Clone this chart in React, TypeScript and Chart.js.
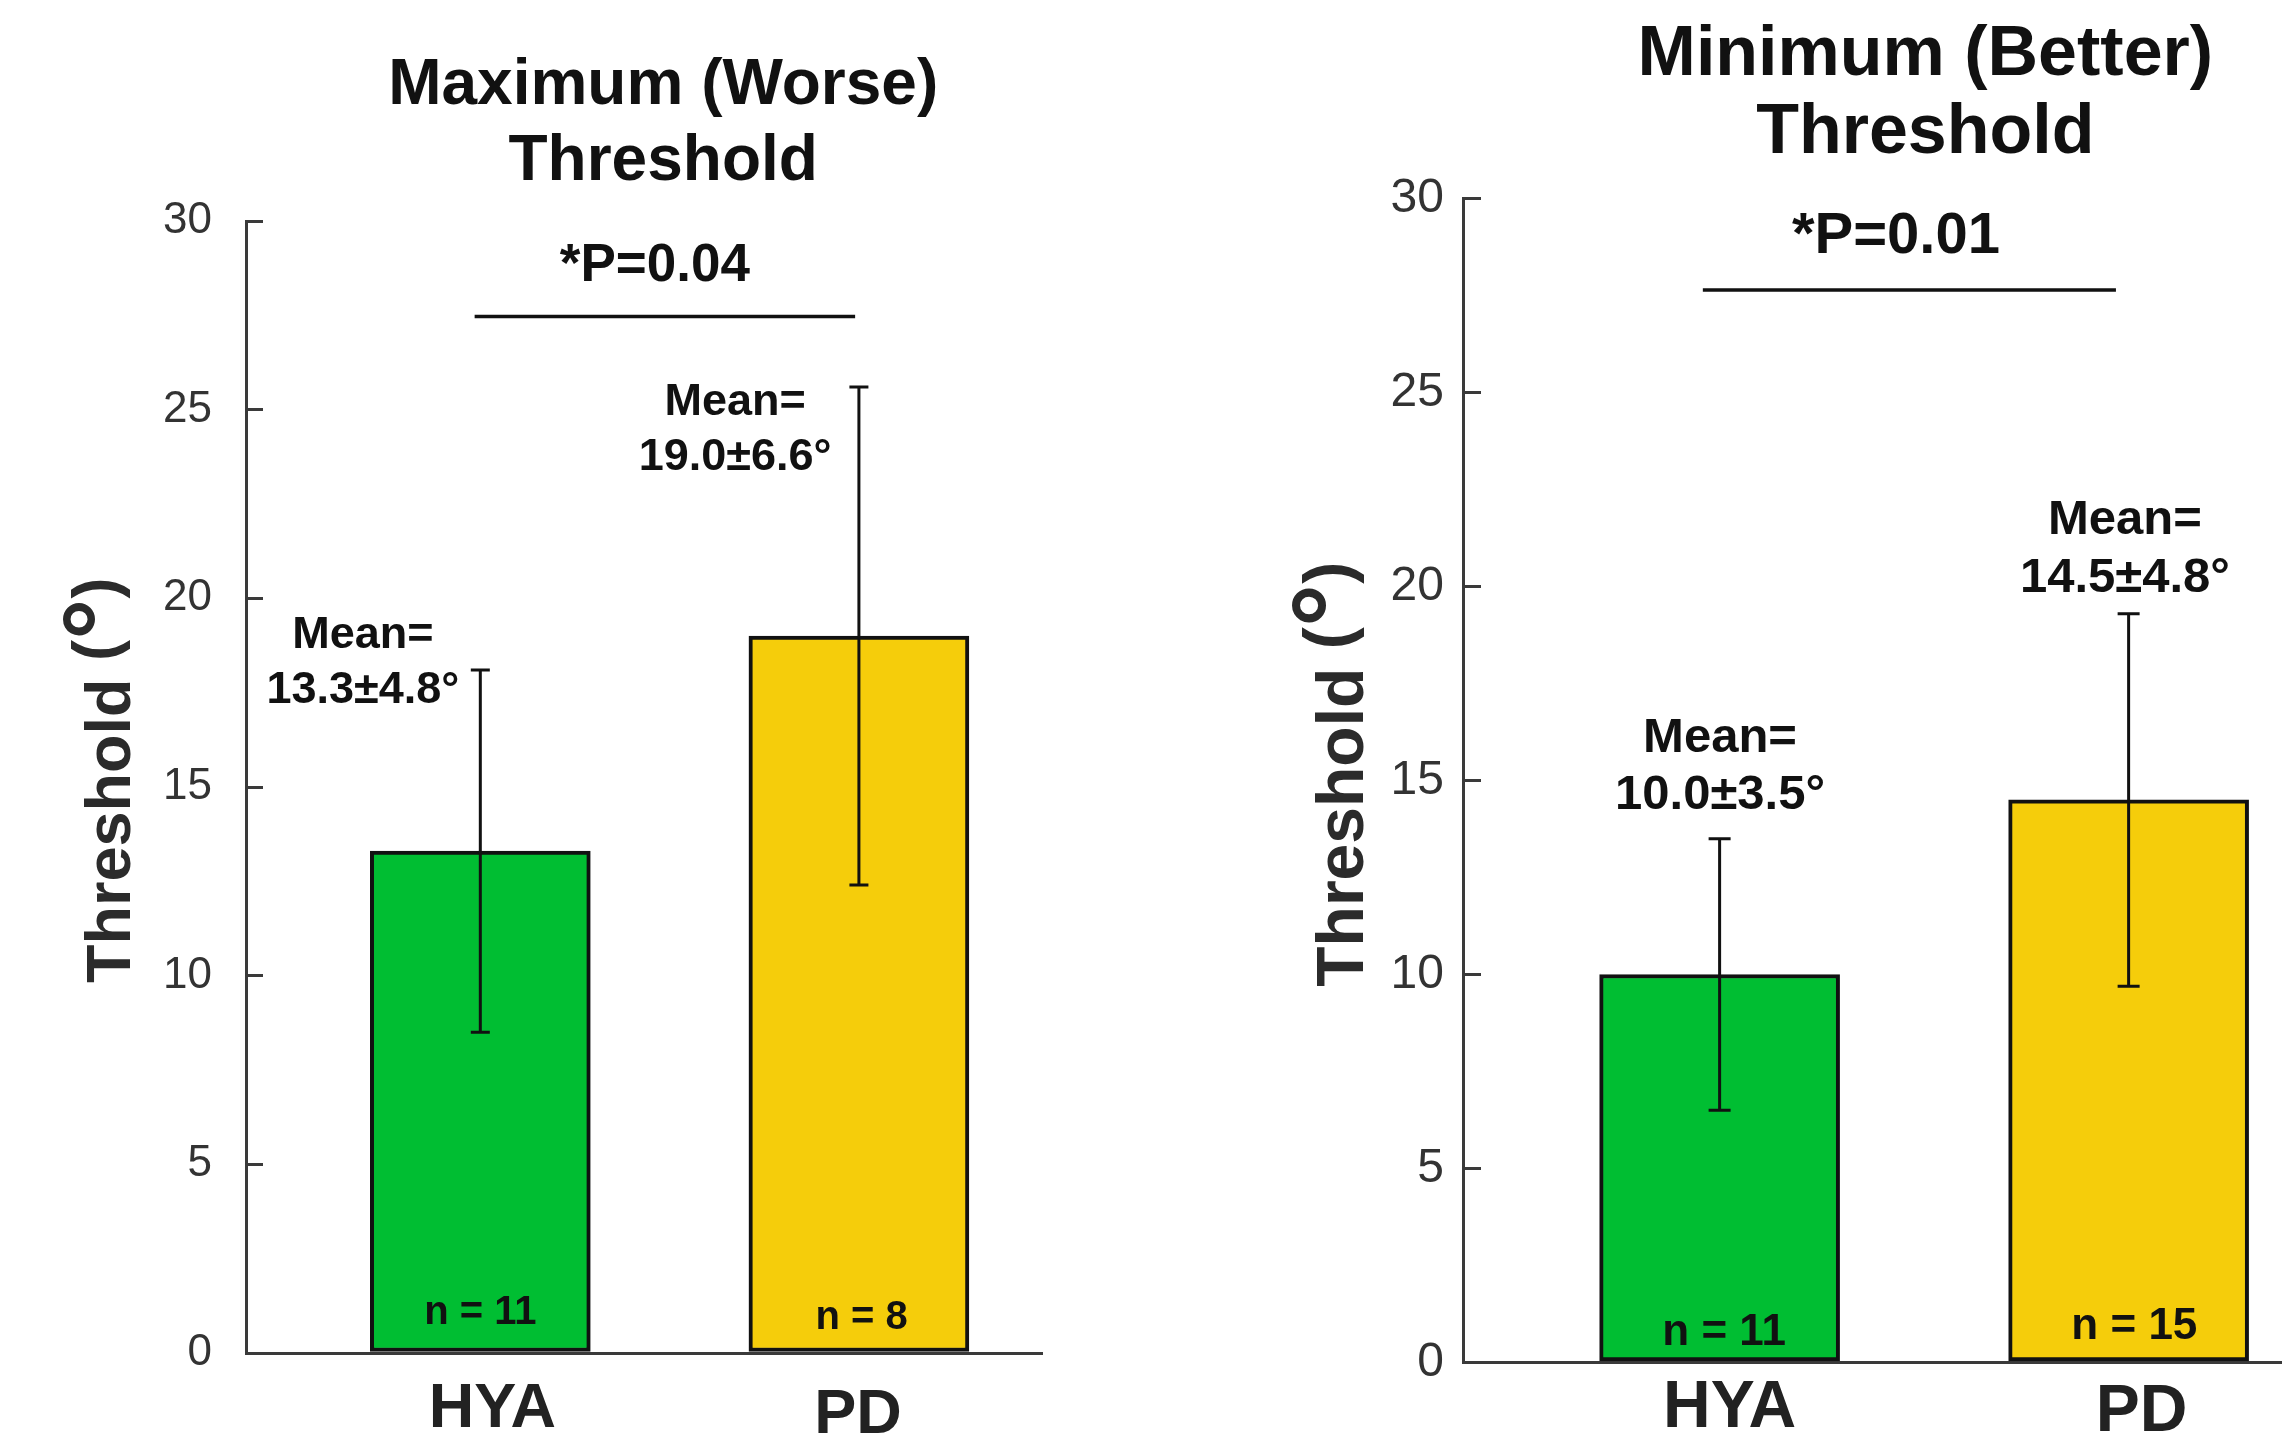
import React, { useEffect, useRef } from "react";
import { Chart, registerables } from "chart.js";

Chart.register(...registerables);

const FONT = "'Liberation Sans', Arial, Helvetica, sans-serif";

// ---------------- data ----------------
const categories = ["HYA", "PD"];
const maxTitle = ["Maximum (Worse)", "Threshold"];
const minTitle = ["Minimum (Better)", "Threshold"];
const maxMeans = [13.3, 19.0];
const maxSDs = [4.8, 6.6];
const maxNs = [11, 8];
const minMeans = [10.0, 14.5];
const minSDs = [3.5, 4.8];
const minNs = [11, 15];
const maxPLabel = "*P=0.04";
const minPLabel = "*P=0.01";
const yAxisTitle = "Threshold";
const yAxisUnit = "°";
const yMin = 0;
const yMax = 30;
const yStep = 5;
const barColors = ["#00BE32", "#F5CD0B"];

// ---------------- layout (positions / sizes / styles) ----------------
const leftLayout = {
  left: 0, width: 1141, height: 1444,
  yAxisWidth: 246, padTop: 221, padRight: 99, xAxisHeight: 91,
  xMin: 0.3811, xMax: 2.4836, barThickness: 220, capHalf: 9.5,
  tickLen: 17, tickPad: 51, tickFont: 44,
  titleFont: 64, titleX: 1.483, titleBaselines: [103.6, 179.6],
  yTitleFont: 63, yTitleX: 130, yTitleY: 983,
  xLabelFont: 63, xLabelDx: [12, -1], xLabelDy: [73.7, 80],
  pFont: 53, pX: 1.461, pY: 28.42,
  sigX: [0.985, 1.99], sigY: 27.47,
  meanFont: 45, meanPos: [[0.69, 18.68, 17.22], [1.673, 24.86, 23.4]],
  nFont: 40, nPos: [[1.0, 0.77], [2.007, 0.64]],
};

const rightLayout = {
  left: 1141, width: 1141, height: 1444,
  yAxisWidth: 322, padTop: 198.5, padRight: 0, xAxisHeight: 81.5,
  xMin: 0.3726, xMax: 2.375, barThickness: 240, capHalf: 11,
  tickLen: 18, tickPad: 37, tickFont: 48,
  titleFont: 70, titleX: 1.503, titleBaselines: [74.6, 153.3],
  yTitleFont: 66, yTitleX: 222.3, yTitleY: 986.7,
  xLabelFont: 66, xLabelDx: [10, 13], xLabelDy: [64, 68.5],
  pFont: 58, pX: 1.431, pY: 28.6,
  sigX: [0.959, 1.969], sigY: 27.64,
  meanFont: 49, meanPos: [[1.001, 15.74, 14.27], [1.991, 21.35, 19.87]],
  nFont: 44, nPos: [[1.011, 0.46], [2.014, 0.61]],
};

type Layout = typeof leftLayout;

function makeConfig(
  L: Layout,
  means: number[],
  sds: number[],
  ns: number[],
  title: string[],
  pLabel: string
): any {
  const annot = {
    id: "annot",
    afterDraw(chart: any) {
      const ctx: CanvasRenderingContext2D = chart.ctx;
      const xs = chart.scales.x;
      const ys = chart.scales.y;
      const area = chart.chartArea;
      ctx.save();

      // error bars
      ctx.strokeStyle = "#111";
      ctx.lineWidth = 3;
      ctx.lineCap = "butt";
      means.forEach((m, i) => {
        const x = xs.getPixelForValue(i + 1);
        const yt = ys.getPixelForValue(m + sds[i]);
        const yb = ys.getPixelForValue(m - sds[i]);
        ctx.beginPath();
        ctx.moveTo(x, yt);
        ctx.lineTo(x, yb);
        ctx.moveTo(x - L.capHalf, yt);
        ctx.lineTo(x + L.capHalf, yt);
        ctx.moveTo(x - L.capHalf, yb);
        ctx.lineTo(x + L.capHalf, yb);
        ctx.stroke();
      });

      ctx.textAlign = "center";
      ctx.textBaseline = "alphabetic";

      // category labels under the axis
      ctx.fillStyle = "#222";
      ctx.font = `bold ${L.xLabelFont}px ${FONT}`;
      categories.forEach((c, i) => {
        ctx.fillText(c, xs.getPixelForValue(i + 1) + L.xLabelDx[i], area.bottom + L.xLabelDy[i]);
      });

      ctx.fillStyle = "#111";
      // title
      ctx.font = `bold ${L.titleFont}px ${FONT}`;
      title.forEach((t, k) => {
        ctx.fillText(t, xs.getPixelForValue(L.titleX), L.titleBaselines[k]);
      });

      // p-value label
      ctx.font = `bold ${L.pFont}px ${FONT}`;
      ctx.fillText(pLabel, xs.getPixelForValue(L.pX), ys.getPixelForValue(L.pY));

      // mean labels
      ctx.font = `bold ${L.meanFont}px ${FONT}`;
      means.forEach((m, i) => {
        const [px, y1, y2] = L.meanPos[i];
        const x = xs.getPixelForValue(px);
        ctx.fillText("Mean=", x, ys.getPixelForValue(y1));
        ctx.fillText(`${m.toFixed(1)}±${sds[i].toFixed(1)}°`, x, ys.getPixelForValue(y2));
      });

      // n labels
      ctx.font = `bold ${L.nFont}px ${FONT}`;
      ns.forEach((n, i) => {
        const [px, py] = L.nPos[i];
        ctx.fillText(`n = ${n}`, xs.getPixelForValue(px), ys.getPixelForValue(py));
      });

      // y-axis title
      ctx.save();
      ctx.translate(L.yTitleX, L.yTitleY);
      ctx.rotate(-Math.PI / 2);
      ctx.textAlign = "left";
      ctx.fillStyle = "#2b2b2b";
      const f = L.yTitleFont;
      ctx.font = `bold ${f}px ${FONT}`;
      ctx.fillText(yAxisTitle, 0, 0);
      let cx = ctx.measureText(yAxisTitle + " ").width;
      const raise = f * 0.2;
      ctx.fillText("(", cx, -raise);
      cx += ctx.measureText("(").width;
      ctx.font = `bold ${f * 1.65}px ${FONT}`;
      ctx.fillText(yAxisUnit, cx, f * 0.08);
      cx += ctx.measureText(yAxisUnit).width;
      ctx.font = `bold ${f}px ${FONT}`;
      ctx.fillText(")", cx, -raise);
      ctx.restore();

      ctx.restore();
    },
  };

  return {
    type: "bar",
    data: {
      datasets: [
        {
          type: "bar",
          data: categories.map((c, i) => ({ x: i + 1, y: means[i] })),
          backgroundColor: barColors,
          borderColor: "#111",
          borderWidth: 4,
          borderSkipped: false,
          barThickness: L.barThickness,
          order: 2,
        },
        {
          type: "line",
          data: L.sigX.map((x) => ({ x, y: L.sigY })),
          borderColor: "#111",
          borderWidth: 3.5,
          pointRadius: 0,
          fill: false,
          order: 1,
        },
      ],
    },
    options: {
      responsive: false,
      animation: false,
      devicePixelRatio: 1,
      layout: { padding: { top: L.padTop, left: 0, right: L.padRight, bottom: 0 } },
      plugins: {
        legend: { display: false },
        tooltip: { enabled: false },
        title: { display: false },
      },
      scales: {
        x: {
          type: "linear",
          min: L.xMin,
          max: L.xMax,
          offset: false,
          afterBuildTicks: (s: any) => {
            s.ticks = categories.map((_, i) => ({ value: i + 1 }));
          },
          afterFit: (s: any) => {
            s.height = L.xAxisHeight;
          },
          grid: { display: true, drawOnChartArea: false, drawTicks: false, offset: false },
          border: { display: true, color: "#3a3a3a", width: 3 },
          ticks: { display: false },
        },
        y: {
          type: "linear",
          min: yMin,
          max: yMax,
          afterFit: (s: any) => {
            s.width = L.yAxisWidth;
          },
          ticks: {
            stepSize: yStep,
            font: { family: FONT, size: L.tickFont },
            color: "#333",
            padding: L.tickPad,
          },
          grid: {
            display: true,
            drawOnChartArea: false,
            drawTicks: true,
            tickLength: -L.tickLen,
            color: "#3a3a3a",
            lineWidth: 3,
          },
          border: { display: true, color: "#3a3a3a", width: 3 },
        },
      },
    },
    plugins: [annot],
  };
}

function Panel(props: {
  L: Layout;
  means: number[];
  sds: number[];
  ns: number[];
  title: string[];
  pLabel: string;
}) {
  const ref = useRef<HTMLCanvasElement | null>(null);
  useEffect(() => {
    const { L, means, sds, ns, title, pLabel } = props;
    const chart = new Chart(ref.current as HTMLCanvasElement, makeConfig(L, means, sds, ns, title, pLabel));
    return () => chart.destroy();
  }, []);
  const L = props.L;
  return (
    <canvas
      ref={ref}
      width={L.width}
      height={L.height}
      style={{ position: "absolute", left: L.left, top: 0, width: L.width, height: L.height, display: "block" }}
    />
  );
}

export default function App() {
  return (
    <div
      style={{
        position: "absolute",
        left: 0,
        top: 0,
        width: 2282,
        height: 1444,
        background: "#ffffff",
        overflow: "hidden",
      }}
    >
      <Panel L={leftLayout} means={maxMeans} sds={maxSDs} ns={maxNs} title={maxTitle} pLabel={maxPLabel} />
      <Panel L={rightLayout} means={minMeans} sds={minSDs} ns={minNs} title={minTitle} pLabel={minPLabel} />
    </div>
  );
}
